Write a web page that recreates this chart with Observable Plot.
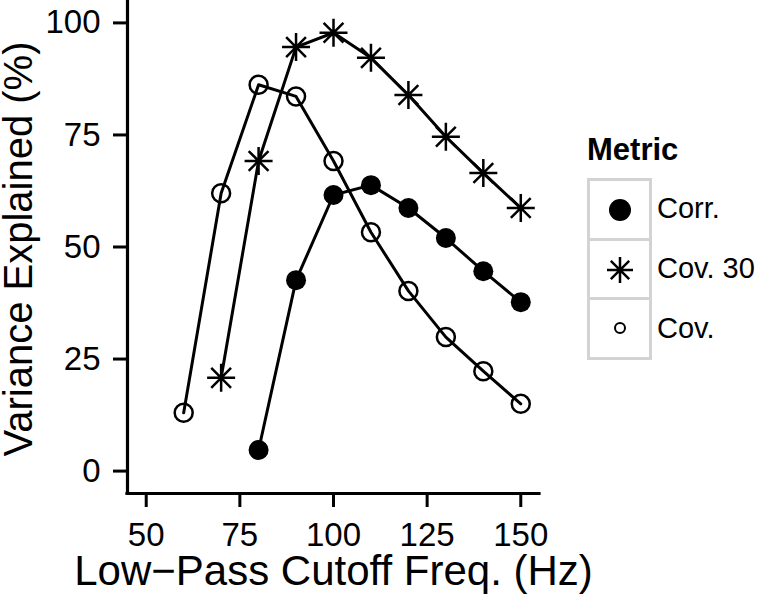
<!DOCTYPE html>
<html>
<head>
<meta charset="utf-8">
<script src="https://cdn.jsdelivr.net/npm/d3@7"></script>
<script src="https://cdn.jsdelivr.net/npm/@observablehq/plot@0.6"></script>
<style>
  html, body { margin: 0; padding: 0; background: white; }
  #wrap { position: relative; width: 777px; height: 595px; font-family: "Liberation Sans", Arial, sans-serif; }
  #legend { position: absolute; left: 587px; top: 132px; }
  #legend .title { font-weight: bold; font-size: 31px; line-height: 36px; height: 46px; margin-left: 0px; }
  #legend .row { display: flex; align-items: center; height: 60px; }
  #legend .key { width: 59px; height: 57px; border: 3px solid #d3d3d3; border-bottom: none; display: flex; align-items: center; justify-content: center; }
  #legend .row:last-child .key { border-bottom: 3px solid #d3d3d3; }
  #legend .lab { font-size: 29px; margin-left: 5px; }
</style>
</head>
<body>
<div id="wrap"><div id="chart"></div><div id="legend"></div></div>
<script>
// ---- data ----
const xTicks = [50, 75, 100, 125, 150];
const yTicks = [0, 25, 50, 75, 100];
const xDomain = [45, 155];
const yDomain = [-5, 105];

const corrFreq = [80, 90, 100, 110, 120, 130, 140, 150];
const corrVals = [4.7, 42.6, 61.6, 63.8, 58.7, 52.0, 44.6, 37.7];

const cov30Freq = [70, 80, 90, 100, 110, 120, 130, 140, 150];
const cov30Vals = [20.8, 69.2, 94.6, 97.8, 92.2, 83.9, 74.6, 66.5, 58.7];

const covFreq = [60, 70, 80, 90, 100, 110, 120, 130, 140, 150];
const covVals = [13.0, 62.0, 86.2, 83.6, 69.2, 53.3, 40.2, 29.9, 22.3, 15.0];

const metrics = ["Corr.", "Cov. 30", "Cov."];
const xTitle = "Low\u2212Pass Cutoff Freq. (Hz)";
const yTitle = "Variance Explained (%)";

// ---- build tables ----
const toRows = (fs, vs, m) => fs.map((f, i) => ({freq: f, value: vs[i], metric: m}));
const corr = toRows(corrFreq, corrVals, metrics[0]);
const cov30 = toRows(cov30Freq, cov30Vals, metrics[1]);
const cov = toRows(covFreq, covVals, metrics[2]);

// 8-spoke asterisk (ggplot shape 8)
const asterisk8 = {
  draw(ctx, size) {
    const r = Math.sqrt(size / Math.PI);
    const d = r * Math.SQRT1_2;
    ctx.moveTo(-r, 0); ctx.lineTo(r, 0);
    ctx.moveTo(0, -r); ctx.lineTo(0, r);
    ctx.moveTo(-d, -d); ctx.lineTo(d, d);
    ctx.moveTo(-d, d); ctx.lineTo(d, -d);
  }
};

const lineOpts = {x: "freq", y: "value", stroke: "black", strokeWidth: 3};

const chart = Plot.plot({
  width: 777,
  height: 595,
  marginLeft: 127,
  marginBottom: 102,
  marginTop: 0,
  marginRight: 238,
  style: {fontFamily: "'Liberation Sans', Arial, sans-serif", color: "black", background: "white", overflow: "visible"},
  x: {domain: xDomain},
  y: {domain: yDomain},
  marks: [
    Plot.ruleX([xDomain[0]], {stroke: "black", strokeWidth: 3.2, strokeLinecap: "square"}),
    Plot.ruleY([yDomain[0]], {stroke: "black", strokeWidth: 3.2, strokeLinecap: "square"}),
    Plot.axisX({ticks: xTicks, tickSize: 14, tickPadding: 15, fontSize: 33, strokeWidth: 3, label: null}),
    Plot.axisY({ticks: yTicks, tickSize: 14, tickPadding: 13, fontSize: 33, strokeWidth: 3, label: null}),
    Plot.text([xTitle], {frameAnchor: "bottom", textAnchor: "middle", lineAnchor: "middle", dy: 78, fontSize: 42, fill: "black"}),
    Plot.text([yTitle], {frameAnchor: "left", textAnchor: "middle", rotate: -90, lineAnchor: "middle", dx: -108, dy: 2, fontSize: 40, fill: "black"}),
    Plot.line(corr, lineOpts),
    Plot.line(cov30, lineOpts),
    Plot.line(cov, lineOpts),
    Plot.dot(corr, {x: "freq", y: "value", r: 10, fill: "black", stroke: "none"}),
    Plot.dot(cov30, {x: "freq", y: "value", r: 14, symbol: asterisk8, stroke: "black", strokeWidth: 2.5, fill: "none"}),
    Plot.dot(cov, {x: "freq", y: "value", r: 9, fill: "none", stroke: "black", strokeWidth: 2.5})
  ]
});
document.getElementById("chart").appendChild(chart);

// ---- legend (ggplot-style keys) ----
const legend = d3.select("#legend");
legend.append("div").attr("class", "title").text("Metric");
const keySpecs = [
  {label: metrics[0], type: d3.symbolCircle, r: 11, fill: "black", stroke: "none", sw: 0},
  {label: metrics[1], type: asterisk8, r: 13, fill: "none", stroke: "black", sw: 2.5},
  {label: metrics[2], type: d3.symbolCircle, r: 5, fill: "none", stroke: "black", sw: 2}
];
for (const k of keySpecs) {
  const row = legend.append("div").attr("class", "row");
  const key = row.append("div").attr("class", "key");
  const svg = key.append("svg").attr("width", 40).attr("height", 40).attr("viewBox", "-20 -20 40 40");
  svg.append("path")
    .attr("d", d3.symbol(k.type, Math.PI * k.r * k.r)())
    .attr("fill", k.fill).attr("stroke", k.stroke).attr("stroke-width", k.sw);
  row.append("div").attr("class", "lab").text(k.label);
}
</script>
</body>
</html>
